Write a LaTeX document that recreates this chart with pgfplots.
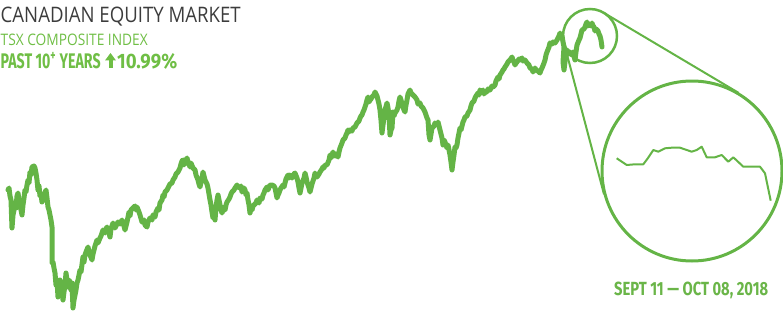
\documentclass[border=0pt]{standalone}
\usepackage{pgfplots}
\pgfplotsset{compat=1.18}
\usepackage{graphicx}
\usepackage{fontspec}
\setmainfont{Open Sans}
\newfontfamily\fira{Fira Sans}
\definecolor{tsxgreen}{HTML}{64B446}
\definecolor{lightgreen}{HTML}{6FBE45}
\definecolor{titlegrey}{HTML}{3C3C3C}
\definecolor{dategreen}{HTML}{6AB548}
\begin{document}
\begin{tikzpicture}
\begin{axis}[name=ax, at={(0,0)}, anchor=south west, scale only axis,
  width=783bp, height=314bp, xmin=0, xmax=783, ymin=0, ymax=314,
  y dir=reverse, hide axis, clip=true]
% main TSX series (pixel-traced)
\addplot[tsxgreen, line width=5bp, line join=round, line cap=round] coordinates {
(8,190)(9,188)(10,196)(11,200)(12,228)(13,215)(14,210)(15,203)(16,208)(17,196)(18,193)(19,200)(20,205)(22,215)
(23,205)(24,198)(25,190)(26,192)(27,185)(28,180)(29,183)(30,172)(31,175)(32,167)(34,166)(35,168)(36,173)(37,180)(38,190)
(39,186)(40,196)(41,194)(42,202)(44,195)(46,190)(47,198)(48,207)(49,210)(50,215)(51,220)(52,227)(52,245)(52,263)
(53,262)(54,268)(55,273)(56,285)(57,280)(58,297)(59,288)(60,280)(61,288)(62,292)(63,300)(64,292)(65,285)(66,273)
(67,280)(68,287)(69,280)(70,282)(71,290)(72,283)(73,308)(74,300)(75,295)(76,290)(77,283)(78,280)(80,270)(81,272)(83,257)(84,262)(85,255)
(86,252)(88,247)(89,252)(90,255)(92,260)(93,254)(94,250)(95,246)(97,240)(98,243)(100,238)(101,236)(103,230)(105,233)(106,229)(107,227)(109,233)(110,237)
(111,229)(113,223)(115,228)(116,226)(118,222)(120,224)(122,220)(124,226)(125,230)(126,226)(127,222)(129,212)(130,216)(131,210)(133,208)(135,206)
(136,210)(137,207)(139,212)(140,215)(142,222)(144,220)(145,225)(147,227)(148,222)(150,218)(152,220)(153,215)(155,217)(156,212)(158,208)(159,210)(160,203)
(162,200)(163,195)(164,197)(165,192)(167,190)(168,188)(170,184)(172,183)(173,180)(175,177)(176,174)(178,172)(180,168)(181,164)(182,161)(183,160)(184,165)(185,162)
(187,158)(188,162)(189,164)(190,167)(191,163)(193,168)(195,170)(196,175)(198,180)(199,184)(200,187)(201,182)(202,178)(203,172)(204,176)(205,180)
(207,184)(208,188)(209,194)(210,200)(211,205)(212,212)(213,218)(214,214)(215,220)(216,208)(217,200)(218,195)(219,200)(220,205)(221,210)(222,213)(224,207)(225,210)
(226,205)(227,202)(229,199)(230,197)(231,194)(232,192)(234,190)(235,188)(237,185)(238,187)(240,188)(241,186)(242,192)(244,188)(245,190)(246,195)(247,193)(248,200)(249,205)
(250,213)(251,208)(252,210)(253,206)(254,205)(256,203)(257,200)(259,203)(260,198)(262,199)(263,195)(264,193)(265,190)(267,187)(268,190)(270,185)(272,185)
(274,186)(275,188)(276,193)(277,198)(278,195)(279,193)(280,190)(281,188)(283,185)(284,187)(285,183)(286,179)(288,175)(289,178)(290,175)(292,178)(293,176)(294,174)(295,173)
(297,178)(298,182)(299,188)(300,193)(301,188)(302,183)(304,178)(305,173)(306,177)(307,182)(309,188)(310,192)(311,188)(312,184)(314,178)(315,173)(316,176)(317,177)(319,174)(320,172)
(322,169)(323,167)(324,168)(325,165)(327,165)(329,160)(330,155)(331,158)(333,152)(334,155)(335,156)(336,154)(338,157)(339,152)(340,148)(342,143)(343,140)(345,138)(346,135)
(347,133)(348,130)(349,132)(350,130)(352,131)(353,128)(355,127)(356,125)(357,123)(359,121)(360,118)(361,116)(362,115)(363,112)(364,110)(365,107)(366,104)(367,100)(368,97)
(369,102)(370,100)(371,99)(372,97)(374,95)(375,92)(376,94)(377,96)(378,100)(379,104)(380,110)(381,120)(382,133)(383,125)(384,118)(385,110)(387,103)(388,108)(389,115)
(390,135)(391,130)(392,128)(393,112)(394,116)(395,113)(397,110)(398,107)(399,101)(400,97)(401,100)(403,107)(404,110)(405,112)(406,105)(407,100)(408,94)(410,90)
(411,93)(413,95)(415,97)(417,100)(418,104)(420,103)(421,106)(423,108)(425,112)(426,115)(427,118)(428,120)(429,135)(430,140)(431,134)(432,128)(434,126)(435,123)
(437,125)(438,122)(439,126)(440,130)(441,134)(442,138)(443,145)(444,140)(445,142)(447,148)(448,145)(449,150)(450,155)(451,162)(452,170)(453,162)(454,155)(455,147)
(456,148)(457,145)(458,138)(460,128)(461,130)(463,122)(464,120)(465,117)(467,116)(468,113)(470,110)(471,106)(472,103)(474,101)(475,98)(476,96)(478,93)(479,95)(480,90)
(482,92)(483,90)(484,94)(485,92)(487,92)(488,89)(490,90)(492,86)(493,87)(495,85)(496,81)(498,77)(499,79)(500,75)(502,72)(503,70)(504,69)(505,67)
(507,64)(508,62)(509,61)(510,60)(512,57)(513,60)(514,62)(515,65)(516,63)(517,62)(519,59)(520,60)(522,58)(523,61)(525,60)(527,63)(529,65)(530,68)
(532,69)(533,72)(535,68)(536,70)(538,71)(540,73)(541,70)(542,68)(544,63)(545,60)(546,55)(547,52)(549,47)(550,43)(552,44)(553,42)(555,43)(557,40)(559,36)(560,33)
(561,38)(562,36)(563,42)(564,47)(563,62)(564,70)(565,62)(566,55)(567,50)(569,54)(570,52)(572,55)(573,52)(575,60)(576,52)(577,45)
(579,40)(580,38)(581,34)(582,30)(584,29)(585,27)(586,24)(587,22)(588,26)(589,24)(591,26)(592,23)(593,26)(594,27)(595,31)(596,29)(598,31)(599,34)(600,36)
(601,40)(602,47)
};
% zoomed series inside the big circle (Sept 11 - Oct 08, 2018)
\addplot[tsxgreen, line width=2bp, line join=round] coordinates {
(616.7,158.3)(626.7,165)(635,164.3)(643.3,164.3)(648,158)(653.3,150)(658.3,151.7)
(665,148.3)(671.7,147.7)(680,147.7)(686.7,150)(691.7,151.7)(696.7,150)(701.7,146.7)
(706.7,157.3)(715,157.3)(721.7,155)(728.3,161.7)(733.3,157.3)(743.3,166.7)(751.7,166.7)
(760,166.7)(765,173.3)(770.7,200.7)
};
% magnifier decoration
\draw[tsxgreen, line width=2.5bp] (axis cs:590,36) circle[radius=27bp];
\draw[tsxgreen, line width=3bp] (axis cs:692,171) circle[radius=90bp];
\draw[tsxgreen, line width=2bp] (axis cs:603.8,12.8) -- (axis cs:738.5,92.8);
\draw[tsxgreen, line width=2bp] (axis cs:563.9,42.9) -- (axis cs:604,194.3);
% titles
\node[anchor=north west, inner sep=0pt, text=titlegrey] at (axis cs:0.5,7.3)
  {\resizebox{240bp}{15.5bp}{CANADIAN EQUITY MARKET}};
\node[anchor=north west, inner sep=0pt, text=lightgreen] at (axis cs:0.5,33.5)
  {\resizebox{147bp}{11.5bp}{TSX COMPOSITE INDEX}};
\node[anchor=north west, inner sep=0pt, text=lightgreen] at (axis cs:0.5,53.3)
  {\resizebox{100bp}{15bp}{\fira\bfseries PAST 10\smash{\textsuperscript{+}} YEARS}};
\fill[lightgreen] (axis cs:105,60.5) -- (axis cs:110.5,53) -- (axis cs:116,60.5) -- cycle;
\fill[lightgreen] (axis cs:108.5,60) rectangle (axis cs:112.5,68.3);
\node[anchor=north west, inner sep=0pt, text=lightgreen] at (axis cs:117,53.3)
  {\resizebox{60bp}{15bp}{\fira\bfseries 10.99\%}};
\node[anchor=north west, inner sep=0pt, text=dategreen] at (axis cs:614,281.5)
  {\resizebox{154bp}{13.5bp}{\fira\bfseries SEPT 11 — OCT 08, 2018}};
\end{axis}
\pgfresetboundingbox
\useasboundingbox (ax.south west) rectangle (ax.north east);
\end{tikzpicture}
\end{document}
